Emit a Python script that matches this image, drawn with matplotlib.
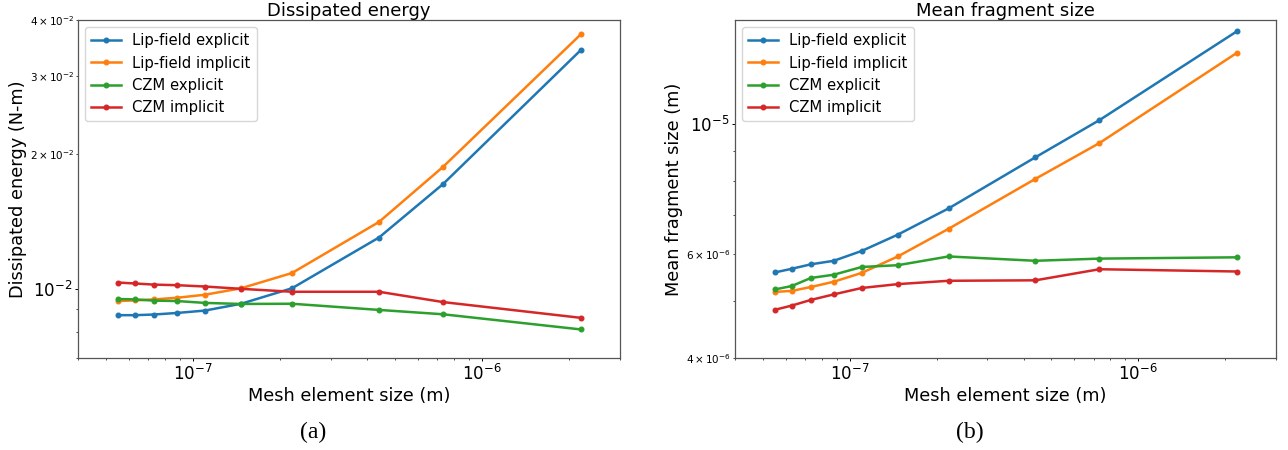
import matplotlib
matplotlib.use('Agg')
import matplotlib.pyplot as plt

# Mesh element sizes (m)
mesh_size = [5.5e-8, 6.29e-8, 7.33e-8, 8.8e-8, 1.1e-7, 1.467e-7, 2.2e-7, 4.4e-7, 7.33e-7, 2.2e-6]

# Dissipated energy (N-m)
energy_lip_explicit = [8.73e-3, 8.73e-3, 8.76e-3, 8.83e-3, 8.94e-3, 9.26e-3, 1.003e-2, 1.303e-2, 1.717e-2, 3.43e-2]
energy_lip_implicit = [9.39e-3, 9.42e-3, 9.47e-3, 9.55e-3, 9.70e-3, 1.003e-2, 1.085e-2, 1.412e-2, 1.876e-2, 3.72e-2]
energy_czm_explicit = [9.49e-3, 9.47e-3, 9.41e-3, 9.39e-3, 9.30e-3, 9.25e-3, 9.26e-3, 8.97e-3, 8.77e-3, 8.11e-3]
energy_czm_implicit = [1.033e-2, 1.028e-2, 1.022e-2, 1.019e-2, 1.012e-2, 1.0e-2, 9.85e-3, 9.85e-3, 9.34e-3, 8.61e-3]

# Mean fragment size (m)
frag_lip_explicit = [5.59e-6, 5.67e-6, 5.77e-6, 5.85e-6, 6.08e-6, 6.48e-6, 7.18e-6, 8.77e-6, 1.014e-5, 1.436e-5]
frag_lip_implicit = [5.18e-6, 5.20e-6, 5.28e-6, 5.39e-6, 5.58e-6, 5.95e-6, 6.63e-6, 8.06e-6, 9.27e-6, 1.32e-5]
frag_czm_explicit = [5.23e-6, 5.30e-6, 5.47e-6, 5.54e-6, 5.71e-6, 5.75e-6, 5.95e-6, 5.85e-6, 5.90e-6, 5.93e-6]
frag_czm_implicit = [4.83e-6, 4.91e-6, 5.02e-6, 5.13e-6, 5.26e-6, 5.34e-6, 5.41e-6, 5.42e-6, 5.66e-6, 5.61e-6]

labels = ['Lip-field explicit', 'Lip-field implicit', 'CZM explicit', 'CZM implicit']
colors = ['#1f77b4', '#ff7f0e', '#2ca02c', '#d62728']

fig = plt.figure(figsize=(12.88, 4.5), dpi=100)
ax1 = fig.add_axes([78 / 1288, 1 - 358 / 450, 542 / 1288, 338 / 450])
ax2 = fig.add_axes([735 / 1288, 1 - 358 / 450, 541 / 1288, 338 / 450])


def draw(ax, series, title, ylabel, ylim):
    for values, label, color in zip(series, labels, colors):
        ax.plot(mesh_size, values, '-o', color=color, label=label,
                linewidth=1.8, markersize=3.3)
    ax.set_xscale('log')
    ax.set_yscale('log')
    ax.set_xlim(4e-8, 3e-6)
    ax.set_ylim(*ylim)
    ax.set_title(title, fontsize=13, pad=3)
    ax.set_xlabel('Mesh element size (m)', fontsize=12.8, labelpad=2)
    ax.set_ylabel(ylabel, fontsize=12.8, labelpad=2)
    ax.tick_params(which='major', labelsize=12, length=2.2, width=0.7, pad=2)
    ax.tick_params(which='minor', labelsize=7.5, length=1.3, width=0.5, pad=1.5)
    for spine in ax.spines.values():
        spine.set_color('#555555')
        spine.set_linewidth(0.9)
    ax.legend(loc='upper left', fontsize=10.6, handlelength=2.0,
              borderpad=0.4, labelspacing=0.5, handletextpad=0.8,
              borderaxespad=0.5, framealpha=0.8)


draw(ax1, [energy_lip_explicit, energy_lip_implicit, energy_czm_explicit, energy_czm_implicit],
     'Dissipated energy', 'Dissipated energy (N-m)', (7e-3, 4e-2))
draw(ax2, [frag_lip_explicit, frag_lip_implicit, frag_czm_explicit, frag_czm_implicit],
     'Mean fragment size', 'Mean fragment size (m)', (4e-6, 1.5e-5))

fig.text(313 / 1288, 1 - 432 / 450, '(a)', ha='center', va='center',
         fontsize=17, family='Liberation Serif')
fig.text(970 / 1288, 1 - 432 / 450, '(b)', ha='center', va='center',
         fontsize=17, family='Liberation Serif')

fig.savefig('out.png', dpi=100)
